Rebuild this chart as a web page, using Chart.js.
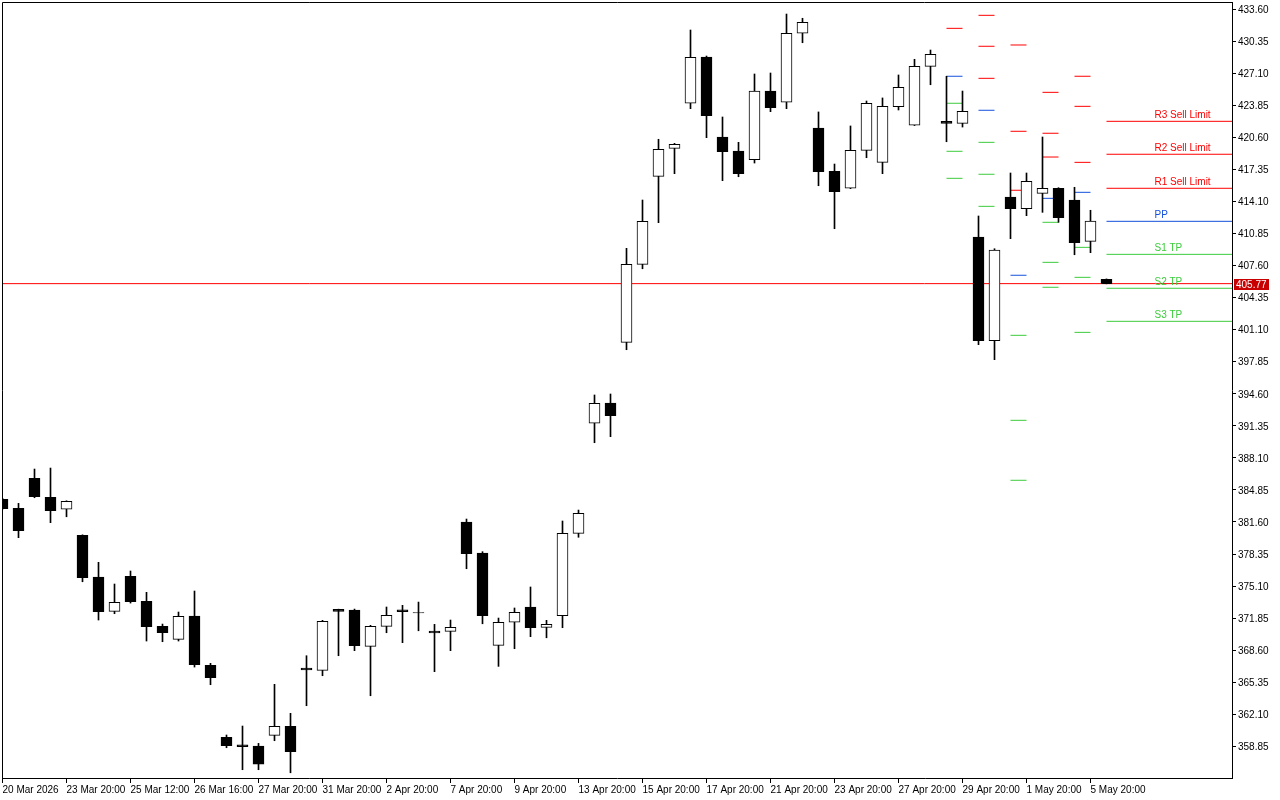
<!DOCTYPE html>
<html>
<head>
<meta charset="utf-8">
<script src="https://cdn.jsdelivr.net/npm/chart.js@4.4.1/dist/chart.umd.min.js"></script>
<style>
  html, body { margin: 0; padding: 0; background: #fff; }
  canvas { display: block; }
</style>
</head>
<body>
<canvas id="chart" width="1280" height="800"></canvas>
<script>
// candles, one per slot
const opens = [383.90, 382.99, 386.03, 384.10, 382.89, 380.25, 376.02, 372.54, 376.09, 373.56,
  371.02, 369.70, 372.06, 367.07, 359.76, 359.01, 358.88, 359.97, 360.88, 366.79,
  366.56, 372.74, 372.67, 368.99, 371.02, 372.70, 372.42, 370.54, 370.51, 381.60,
  378.45, 369.09, 371.43, 372.98, 370.92, 372.10, 380.45, 391.61, 393.67, 399.82,
  407.73, 416.65, 419.49, 424.06, 428.75, 420.64, 419.22, 418.34, 425.30, 424.16,
  431.16, 421.55, 417.16, 415.44, 419.29, 418.07, 423.71, 421.83, 427.81, 422.23,
  422.03, 410.50, 399.98, 414.56, 413.37, 414.93, 415.44, 414.25, 410.06, 406.21];
const highs = [384.00, 383.49, 386.97, 387.07, 383.75, 380.30, 377.51, 375.31, 376.63, 374.47,
  371.25, 372.47, 374.60, 367.27, 360.00, 360.91, 359.15, 365.14, 362.20, 368.04,
  371.63, 372.76, 372.77, 371.12, 372.98, 373.15, 373.48, 371.22, 371.66, 381.90,
  378.59, 371.86, 372.88, 375.01, 371.63, 381.70, 382.81, 394.48, 394.58, 409.35,
  414.25, 420.41, 420.00, 431.49, 428.85, 422.67, 420.10, 427.03, 427.13, 433.11,
  432.68, 423.18, 417.90, 421.76, 424.29, 424.60, 426.93, 428.52, 429.46, 426.80,
  425.30, 412.63, 409.31, 416.99, 416.99, 420.64, 415.50, 415.54, 413.21, 406.25];
const lows = [382.90, 380.01, 384.06, 381.53, 382.13, 375.54, 371.66, 372.30, 373.38, 369.53,
  369.46, 369.53, 366.89, 365.10, 358.71, 356.48, 356.48, 359.42, 356.17, 362.97,
  366.01, 368.04, 368.55, 363.98, 370.37, 369.36, 370.57, 366.42, 368.55, 376.86,
  371.28, 366.96, 368.75, 369.97, 369.86, 370.88, 380.05, 389.64, 390.25, 399.07,
  407.28, 411.95, 416.92, 423.51, 420.57, 416.21, 416.61, 418.00, 423.21, 423.51,
  430.20, 415.70, 411.34, 415.40, 418.54, 416.92, 423.38, 421.80, 425.94, 420.16,
  421.65, 399.58, 398.06, 410.33, 412.66, 413.00, 411.99, 408.70, 408.91, 405.75];
const closes = [382.95, 380.71, 384.16, 382.74, 383.70, 375.95, 372.50, 373.45, 373.51, 370.98,
  370.37, 372.03, 367.13, 365.81, 358.91, 358.81, 357.03, 360.88, 358.30, 366.59,
  371.53, 372.54, 369.05, 371.02, 372.14, 372.50, 372.38, 370.34, 370.92, 378.38,
  372.10, 371.43, 372.44, 370.88, 371.22, 380.45, 382.48, 393.63, 392.38, 407.73,
  412.09, 419.39, 419.90, 428.72, 422.80, 419.15, 416.92, 425.30, 423.61, 431.16,
  432.27, 417.12, 415.09, 419.29, 424.06, 423.75, 425.68, 427.81, 429.03, 422.03,
  423.25, 399.98, 409.18, 413.37, 416.15, 415.44, 412.46, 409.92, 412.12, 405.77];

const currentPrice = 405.77;

// time axis labels and the slot they sit on
const xTickIndex = [0, 4, 8, 12, 16, 20, 24, 28, 32, 36, 40, 44, 48, 52, 56, 60, 64, 68];
const xTickLabels = ['20 Mar 2026', '23 Mar 20:00', '25 Mar 12:00', '26 Mar 16:00', '27 Mar 20:00',
  '31 Mar 20:00', '2 Apr 20:00', '7 Apr 20:00', '9 Apr 20:00', '13 Apr 20:00', '15 Apr 20:00',
  '17 Apr 20:00', '21 Apr 20:00', '23 Apr 20:00', '27 Apr 20:00', '29 Apr 20:00', '1 May 20:00', '5 May 20:00'];

const yTicks = [358.85, 362.10, 365.35, 368.60, 371.85, 375.10, 378.35, 381.60, 384.85, 388.10,
  391.35, 394.60, 397.85, 401.10, 404.35, 407.60, 410.85, 414.10, 417.35, 420.60,
  423.85, 427.10, 430.35, 433.60];

// daily pivot levels drawn over two slots each
const pivotStarts = [59, 61, 63, 65, 67];
const pivotRes = [[431.66], [432.98, 429.84, 426.59], [429.97, 421.22, 415.24], [425.17, 421.02, 418.61], [426.80, 423.75, 418.07]];
const pivotPP = [426.80, 423.35, 406.62, 414.42, 415.03];
const pivotSup = [[424.06, 419.19, 416.45], [420.10, 416.86, 413.61], [400.53, 391.91, 385.83], [411.99, 407.93, 405.40], [409.45, 406.41, 400.83]];

// current pivot set
const levelStart = 69;
const levelNames = ['R3 Sell Limit', 'R2 Sell Limit', 'R1 Sell Limit', 'PP', 'S1 TP', 'S2 TP', 'S3 TP'];
const levelValues = [422.23, 418.89, 415.44, 412.09, 408.74, 405.30, 401.95];

const RED = '#ff0000';
const BLUE = '#1450dc';
const GREEN = '#3ccc3c';
const levelColors = [RED, RED, RED, BLUE, GREEN, GREEN, GREEN];

const xMin = -0.03125;
const xMax = xMin + 1230 / 16;

const wicks = lows.map((l, i) => ({ x: i, y: [l, highs[i]] }));
const bodies = opens.map((o, i) => ({ x: i, y: [o, closes[i]] }));
const bodyFill = opens.map((o, i) => closes[i] >= o ? '#ffffff' : '#000000');

function segments(list) {
  const pts = [];
  list.forEach(([a, b, v]) => {
    pts.push({ x: a, y: v }, { x: b, y: v }, { x: b, y: null });
  });
  return pts;
}

const redSegs = [], blueSegs = [], greenSegs = [];
pivotStarts.forEach((s, g) => {
  pivotRes[g].forEach(v => redSegs.push([s, s + 1, v]));
  blueSegs.push([s, s + 1, pivotPP[g]]);
  pivotSup[g].forEach(v => greenSegs.push([s, s + 1, v]));
});
levelValues.forEach((v, k) => {
  const seg = [levelStart, xMax, v];
  if (levelColors[k] === RED) redSegs.push(seg);
  else if (levelColors[k] === BLUE) blueSegs.push(seg);
  else greenSegs.push(seg);
});

function lineSet(data, color, order) {
  return {
    type: 'line', data: data, borderColor: color, borderWidth: 1,
    pointRadius: 0, spanGaps: false, tension: 0, order: order
  };
}

const frame = {
  id: 'frame',
  afterDraw(chart) {
    const { ctx, chartArea: a } = chart;
    ctx.save();
    ctx.strokeStyle = '#000';
    ctx.lineWidth = 1;
    ctx.beginPath();
    ctx.moveTo(a.left + 0.5, a.bottom);
    ctx.lineTo(a.left + 0.5, a.top + 0.5);
    ctx.lineTo(a.right, a.top + 0.5);
    ctx.stroke();
    ctx.restore();
  }
};

const levelLabels = {
  id: 'levelLabels',
  afterDatasetsDraw(chart) {
    const { ctx, scales: { x, y } } = chart;
    ctx.save();
    ctx.font = '10px "Liberation Sans", Arial, sans-serif';
    ctx.textAlign = 'left';
    ctx.textBaseline = 'alphabetic';
    levelNames.forEach((name, k) => {
      ctx.fillStyle = levelColors[k];
      ctx.fillText(name, x.getPixelForValue(72), y.getPixelForValue(levelValues[k]) - 3);
    });
    ctx.restore();
  },
  afterDraw(chart) {
    const { ctx, chartArea: a, scales: { y } } = chart;
    const py = Math.round(y.getPixelForValue(currentPrice));
    ctx.save();
    ctx.fillStyle = '#c80000';
    ctx.fillRect(a.right + 2, py - 5, 35, 11);
    ctx.fillStyle = '#ffffff';
    ctx.font = '10px "Liberation Sans", Arial, sans-serif';
    ctx.textAlign = 'left';
    ctx.textBaseline = 'middle';
    ctx.fillText(currentPrice.toFixed(2), a.right + 4, py + 1);
    ctx.restore();
  }
};

Chart.defaults.font.family = '"Liberation Sans", Arial, sans-serif';
Chart.defaults.font.size = 10;
Chart.defaults.color = '#000';

new Chart(document.getElementById('chart'), {
  type: 'bar',
  data: {
    datasets: [
      {
        type: 'bar', data: bodies, backgroundColor: bodyFill, borderColor: '#000',
        borderWidth: 1, borderSkipped: false, barThickness: 11, grouped: false, order: 0
      },
      { type: 'bar', data: wicks, backgroundColor: '#000', barThickness: 1, grouped: false, order: 1 },
      lineSet([{ x: xMin, y: currentPrice }, { x: xMax, y: currentPrice }], '#ff0000', 2),
      lineSet(segments(redSegs), RED, 3),
      lineSet(segments(blueSegs), BLUE, 3),
      lineSet(segments(greenSegs), GREEN, 3)
    ]
  },
  options: {
    responsive: false,
    devicePixelRatio: 1,
    animation: false,
    events: [],
    layout: { padding: { left: 2, top: 2, right: 0, bottom: 0 } },
    plugins: { legend: { display: false }, tooltip: { enabled: false } },
    scales: {
      x: {
        type: 'linear', min: xMin, max: xMax, offset: false,
        grid: { offset: false, drawOnChartArea: false, drawTicks: true, tickLength: 5, color: '#000' },
        border: { display: true, color: '#000', width: 1 },
        ticks: {
          autoSkip: false, maxRotation: 0, minRotation: 0, align: 'start', padding: 1,
          callback: (v, i) => xTickLabels[i]
        },
        afterBuildTicks: s => { s.ticks = xTickIndex.map(v => ({ value: v })); },
        afterFit: s => { s.height = 22; s.paddingLeft = 0; s.paddingRight = 0; }
      },
      y: {
        type: 'linear', position: 'right', min: 355.64, max: 434.33,
        grid: { offset: false, drawOnChartArea: false, drawTicks: true, tickLength: 4, color: '#000' },
        border: { display: true, color: '#000', width: 1 },
        ticks: { padding: 2, labelOffset: 1, callback: v => Number(v).toFixed(2) },
        afterBuildTicks: s => { s.ticks = yTicks.map(v => ({ value: v })); },
        afterFit: s => { s.width = 48; s.paddingTop = 0; s.paddingBottom = 0; }
      }
    }
  },
  plugins: [frame, levelLabels]
});
</script>
</body>
</html>
